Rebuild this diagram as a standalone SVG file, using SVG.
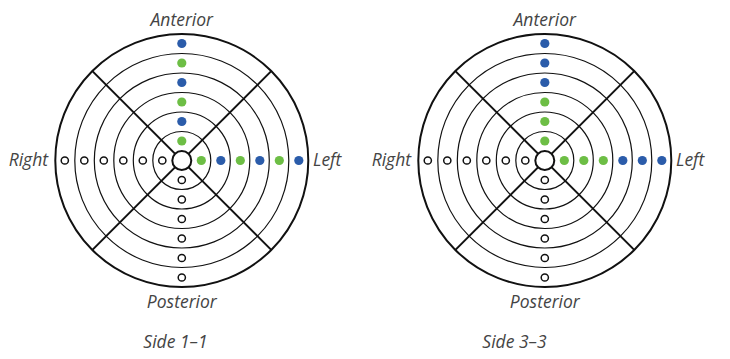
<svg xmlns="http://www.w3.org/2000/svg" width="730" height="359" viewBox="0 0 730 359">
<defs>
<style>
.lbl{font-family:"Open Sans","Noto Sans","Liberation Sans",sans-serif;font-style:italic;font-size:17.5px;fill:#444;}
.outer{fill:none;stroke:#111;stroke-width:2;}
.ring{fill:none;stroke:#111;stroke-width:1.2;}
.spoke{stroke:#111;stroke-width:2;}
.hub{fill:#fff;stroke:#111;stroke-width:2;}
.b{fill:#2B5CAA;}
.g{fill:#6DBE45;}
.o{fill:#fff;stroke:#111;stroke-width:1.5;}
</style>
<g id="dial">
<circle class="outer" cx="0" cy="0" r="126.5"/>
<circle class="ring" cx="0" cy="0" r="107"/>
<circle class="ring" cx="0" cy="0" r="87.5"/>
<circle class="ring" cx="0" cy="0" r="68"/>
<circle class="ring" cx="0" cy="0" r="48.5"/>
<circle class="ring" cx="0" cy="0" r="29"/>
<line class="spoke" x1="-89.4" y1="-89.4" x2="89.4" y2="89.4"/>
<line class="spoke" x1="89.4" y1="-89.4" x2="-89.4" y2="89.4"/>
<circle class="hub" cx="0" cy="0" r="9.5"/>
<circle class="o" cx="-19.5" cy="0" r="3.6"/>
<circle class="o" cx="-39" cy="0" r="3.6"/>
<circle class="o" cx="-58.5" cy="0" r="3.6"/>
<circle class="o" cx="-78" cy="0" r="3.6"/>
<circle class="o" cx="-97.5" cy="0" r="3.6"/>
<circle class="o" cx="-117" cy="0" r="3.6"/>
<circle class="o" cx="0" cy="19.5" r="3.6"/>
<circle class="o" cx="0" cy="39" r="3.6"/>
<circle class="o" cx="0" cy="58.5" r="3.6"/>
<circle class="o" cx="0" cy="78" r="3.6"/>
<circle class="o" cx="0" cy="97.5" r="3.6"/>
<circle class="o" cx="0" cy="117" r="3.6"/>
</g>
</defs>
<g id="diagram-1">
<use href="#dial" x="181.8" y="160.5"/>
<g id="dots-1">
<circle class="g" cx="181.8" cy="141" r="4.6"/>
<circle class="b" cx="181.8" cy="121.5" r="4.6"/>
<circle class="g" cx="181.8" cy="102" r="4.6"/>
<circle class="b" cx="181.8" cy="82.5" r="4.6"/>
<circle class="g" cx="181.8" cy="63" r="4.6"/>
<circle class="b" cx="181.8" cy="43.5" r="4.6"/>
<circle class="g" cx="201.3" cy="160.5" r="4.6"/>
<circle class="b" cx="220.8" cy="160.5" r="4.6"/>
<circle class="g" cx="240.3" cy="160.5" r="4.6"/>
<circle class="b" cx="259.8" cy="160.5" r="4.6"/>
<circle class="g" cx="279.3" cy="160.5" r="4.6"/>
<circle class="b" cx="298.8" cy="160.5" r="4.6"/>
</g>
<text class="lbl" x="181.8" y="25.5" text-anchor="middle">Anterior</text>
<text class="lbl" x="181.8" y="307.5" text-anchor="middle">Posterior</text>
<text class="lbl" x="48" y="166" text-anchor="end">Right</text>
<text class="lbl" x="313" y="166">Left</text>
<text class="lbl" x="175.5" y="348" text-anchor="middle">Side 1–1</text>
</g>
<g id="diagram-2">
<use href="#dial" x="544.8" y="160.5"/>
<g id="dots-2">
<circle class="g" cx="544.8" cy="141" r="4.6"/>
<circle class="g" cx="544.8" cy="121.5" r="4.6"/>
<circle class="g" cx="544.8" cy="102" r="4.6"/>
<circle class="b" cx="544.8" cy="82.5" r="4.6"/>
<circle class="b" cx="544.8" cy="63" r="4.6"/>
<circle class="b" cx="544.8" cy="43.5" r="4.6"/>
<circle class="g" cx="564.3" cy="160.5" r="4.6"/>
<circle class="g" cx="583.8" cy="160.5" r="4.6"/>
<circle class="g" cx="603.3" cy="160.5" r="4.6"/>
<circle class="b" cx="622.8" cy="160.5" r="4.6"/>
<circle class="b" cx="642.3" cy="160.5" r="4.6"/>
<circle class="b" cx="661.8" cy="160.5" r="4.6"/>
</g>
<text class="lbl" x="544.8" y="25.5" text-anchor="middle">Anterior</text>
<text class="lbl" x="544.8" y="307.5" text-anchor="middle">Posterior</text>
<text class="lbl" x="411" y="166" text-anchor="end">Right</text>
<text class="lbl" x="676" y="166">Left</text>
<text class="lbl" x="514.5" y="348" text-anchor="middle">Side 3–3</text>
</g>
</svg>
